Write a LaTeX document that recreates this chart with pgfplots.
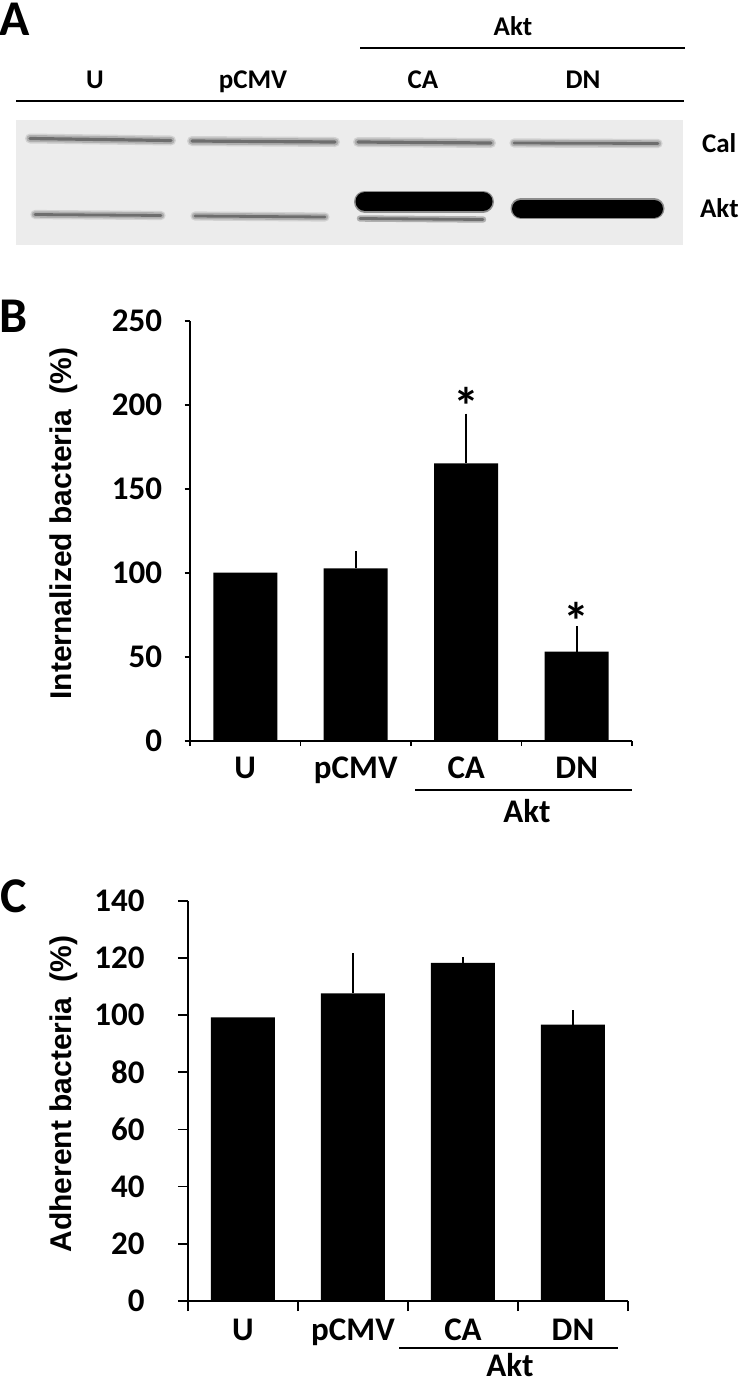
\documentclass[border=0pt]{standalone}
\usepackage{fontspec}
\setmainfont{Carlito}
\newfontfamily\arialfont{Liberation Sans}
\usepackage{pgfplots}
\usepackage{pgfplotstable}
\pgfplotsset{compat=1.18}
\definecolor{blotbg}{RGB}{236,236,236}
\definecolor{bandgray}{RGB}{110,110,110}
\definecolor{bandhalo}{RGB}{175,175,175}
\definecolor{bandsoft}{RGB}{210,210,210}
\newcommand\tfont{\fontsize{16.5}{16.5}\selectfont\bfseries}
\newcommand\lfont{\fontsize{13.5}{13.5}\selectfont\bfseries}
\newcommand\pfont{\fontsize{25}{25}\selectfont\bfseries}
\newcommand\yfont{\arialfont\fontsize{15}{15}\selectfont\bfseries}
\newcommand\afont{\fontsize{26}{26}\selectfont\bfseries}

\pgfplotstableread{
x y e
0 100.0 0
1 102.6 8.3
2 165.1 27.8
3 53.0 13.3
}\dataB

\pgfplotstableread{
x y e
0 99.2 0
1 107.6 13.0
2 118.3 0.9
3 96.7 4.0
}\dataC

\pgfplotsset{
  barpanel/.style={
    scale only axis, clip=false,
    xmin=-0.5, xmax=3.5, ymin=0,
    axis x line*=bottom, axis y line*=left,
    axis line style={line width=0.8pt, black},
    tick align=outside,
    tick style={line width=0.8pt, black},
    xtick={-0.5,0.5,1.5,2.5,3.5}, xticklabels={,,,,},
    extra x ticks={0,1,2,3}, extra x tick labels={U,pCMV,CA,DN},
    /pgf/number format/assume math mode=true,
    ybar, bar width=32pt, bar shift=0pt,
  },
  barplot/.style={fill=black, draw=none},
  errplot/.style={fill=none, draw=none, forget plot,
    error bars/.cd, y dir=plus, y explicit,
    error bar style={draw=black, line width=1pt},
    error mark options={draw=black, line width=1pt, mark size=1.5pt}},
}

\begin{document}
\begin{tikzpicture}[x=0.5pt,y=-0.5pt]
\useasboundingbox (0,0) rectangle (750,1383);

% ---------- Panel A ----------
\node[font=\pfont, anchor=base] at (15,35) {A};
\node[font=\lfont, anchor=base] at (513,35) {Akt};
\draw[line width=1pt] (360,48) -- (685,48);
\node[font=\lfont, anchor=base] at (95,88.5) {U};
\node[font=\lfont, anchor=base] at (253,88.5) {pCMV};
\node[font=\lfont, anchor=base] at (423,88.5) {CA};
\node[font=\lfont, anchor=base] at (583,88.5) {DN};
\draw[line width=1pt] (16,101) -- (684,101);
\node[font=\lfont, anchor=base west] at (695,152) {Cal};
\node[font=\lfont, anchor=base west] at (693,217) {Akt};

\begin{axis}[at={(8pt,-122.5pt)}, anchor=south west, scale only axis,
  width=333.5pt, height=62.5pt,
  xmin=16, xmax=683, ymin=120, ymax=245, y dir=reverse,
  axis lines=none, ticks=none, clip=false,
  axis background/.style={fill=blotbg}]
% calnexin bands (soft halo + halo + core)
\addplot[draw=bandsoft, line width=5pt, line cap=round] coordinates {(30,138.5) (171,140.5)};
\addplot[draw=bandhalo, line width=3.5pt, line cap=round] coordinates {(30,138.5) (171,140.5)};
\addplot[draw=bandgray, line width=1.6pt, line cap=round] coordinates {(30,138.5) (171,140.5)};
\addplot[draw=bandsoft, line width=5pt, line cap=round] coordinates {(192,141) (335,142)};
\addplot[draw=bandhalo, line width=3.5pt, line cap=round] coordinates {(192,141) (335,142)};
\addplot[draw=bandgray, line width=1.6pt, line cap=round] coordinates {(192,141) (335,142)};
\addplot[draw=bandsoft, line width=5pt, line cap=round] coordinates {(358,142) (491,143)};
\addplot[draw=bandhalo, line width=3.5pt, line cap=round] coordinates {(358,142) (491,143)};
\addplot[draw=bandgray, line width=1.6pt, line cap=round] coordinates {(358,142) (491,143)};
\addplot[draw=bandsoft, line width=4.6pt, line cap=round] coordinates {(514,143) (658,143.5)};
\addplot[draw=bandhalo, line width=3.2pt, line cap=round] coordinates {(514,143) (658,143.5)};
\addplot[draw=bandgray, line width=1.4pt, line cap=round] coordinates {(514,143) (658,143.5)};
% endogenous Akt bands
\addplot[draw=bandsoft, line width=4.6pt, line cap=round] coordinates {(35,214.5) (161,215.5)};
\addplot[draw=bandhalo, line width=3.2pt, line cap=round] coordinates {(35,214.5) (161,215.5)};
\addplot[draw=bandgray, line width=1.4pt, line cap=round] coordinates {(35,214.5) (161,215.5)};
\addplot[draw=bandsoft, line width=4.6pt, line cap=round] coordinates {(195,216) (325,217)};
\addplot[draw=bandhalo, line width=3.2pt, line cap=round] coordinates {(195,216) (325,217)};
\addplot[draw=bandgray, line width=1.4pt, line cap=round] coordinates {(195,216) (325,217)};
\addplot[draw=bandhalo, line width=3.2pt, line cap=round] coordinates {(360,218.5) (483,219.5)};
\addplot[draw=bandgray, line width=1.4pt, line cap=round] coordinates {(360,218.5) (483,219.5)};
% overexpressed Akt bands
\addplot[draw=black!45, line width=11pt, line cap=round] coordinates {(365,201.5) (483,201.5)};
\addplot[draw=black, line width=9.5pt, line cap=round] coordinates {(365,201.5) (483,201.5)};
\addplot[draw=black!45, line width=10.5pt, line cap=round] coordinates {(521,208.5) (654,208.5)};
\addplot[draw=black, line width=9pt, line cap=round] coordinates {(521,208.5) (654,208.5)};
\end{axis}

% ---------- Panel B ----------
\node[font=\pfont, anchor=base] at (14,332) {B};
\begin{axis}[barpanel, at={(95pt,-370.35pt)}, anchor=south west,
  width=221pt, height=210pt,
  ymax=250, ytick={0,50,...,250},
  major tick length=2.75pt,
  extra x tick style={major tick length=0pt,
    xticklabel style={font=\tfont, inner sep=0pt, anchor=base, yshift=-19pt}},
  yticklabel style={font=\tfont, inner sep=0pt, anchor=east, xshift=-11pt},
  ylabel={Internalized bacteria\hspace{0.5em}(\%)},
  ylabel style={font=\yfont, at={(axis description cs:-0.285,0.517)}, anchor=center},
]
\addplot[barplot] table[x=x, y=y] {\dataB};
\addplot[errplot] table[x=x, y=y, y error=e, skip coords between index={0}{1}] {\dataB};
\node[font=\afont] at (axis cs:2,199) {*};
\node[font=\afont] at (axis cs:3,71.5) {*};
\end{axis}
\draw[line width=1pt] (415,790) -- (632,790);
\node[font=\tfont, anchor=base] at (527,822.5) {Akt};

% ---------- Panel C ----------
\node[font=\pfont, anchor=base] at (14,912) {C};
\begin{axis}[barpanel, at={(94pt,-650.5pt)}, anchor=south west,
  width=220pt, height=200.15pt,
  ymax=140, ytick={0,20,...,140},
  major tick length=5pt,
  extra x tick style={major tick length=0pt,
    xticklabel style={font=\tfont, inner sep=0pt, anchor=base, yshift=-19.9pt}},
  yticklabel style={font=\tfont, inner sep=0pt, anchor=east, xshift=-16.5pt},
  ylabel={Adherent bacteria\hspace{0.5em}(\%)},
  ylabel style={font=\yfont, at={(axis description cs:-0.282,0.517)}, anchor=center},
]
\addplot[barplot] table[x=x, y=y] {\dataC};
\addplot[errplot] table[x=x, y=y, y error=e, skip coords between index={0}{1}] {\dataC};
\end{axis}
\draw[line width=1pt] (399,1348) -- (618,1348);
\node[font=\tfont, anchor=base] at (510,1376) {Akt};
\end{tikzpicture}
\end{document}
